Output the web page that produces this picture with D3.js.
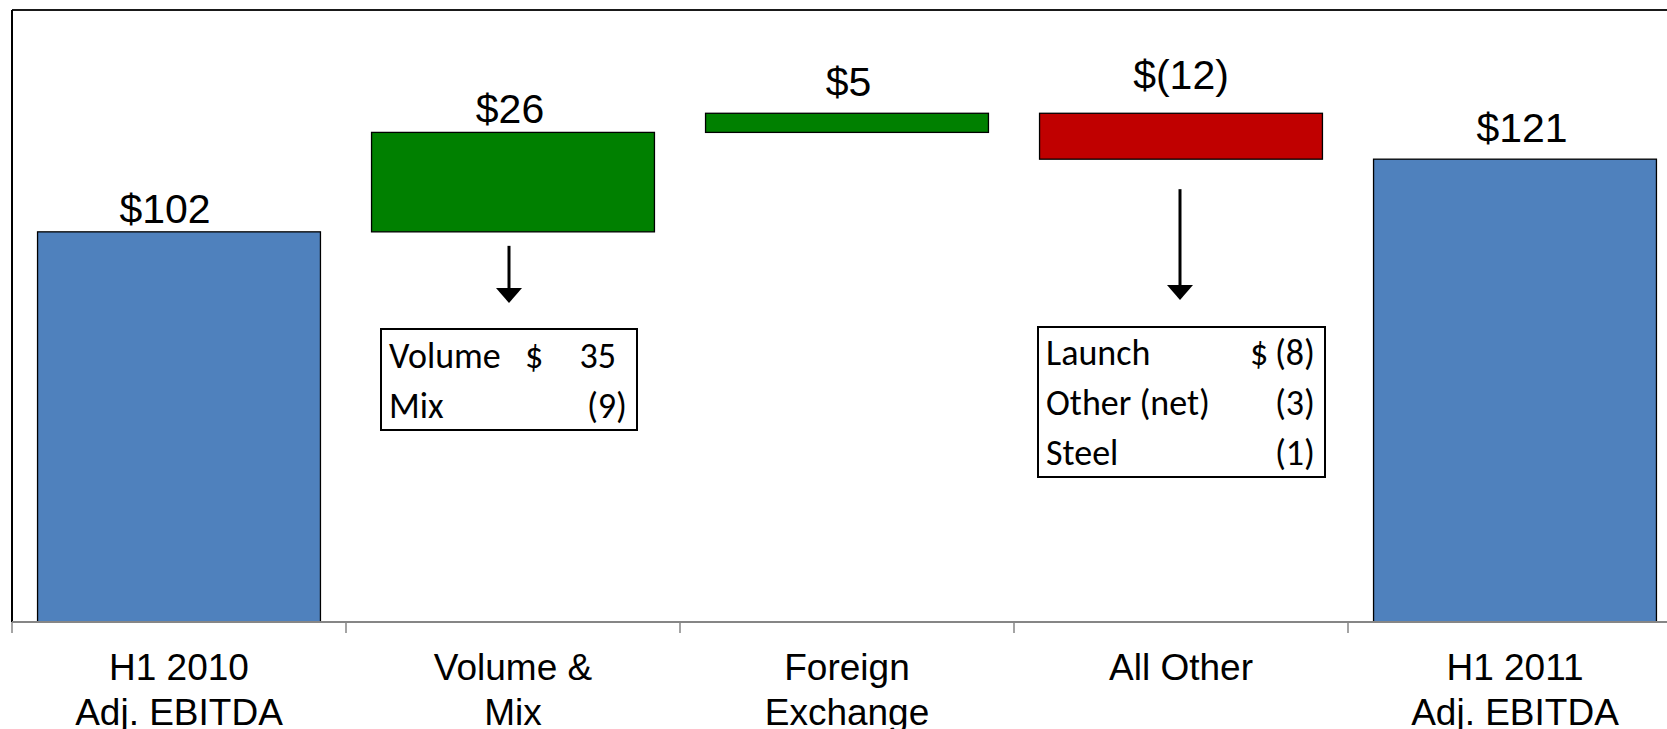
<!DOCTYPE html>
<html>
<head>
<meta charset="utf-8">
<script src="https://cdn.jsdelivr.net/npm/d3@7"></script>
<style>
  html, body { margin: 0; padding: 0; background: #fff; }
  svg { display: block; }
</style>
</head>
<body>
<svg id="chart" width="1667" height="729"></svg>
<script>
// ---------- data ----------
const categories = ["H1 2010\nAdj. EBITDA", "Volume &\nMix", "Foreign\nExchange", "All Other", "H1 2011\nAdj. EBITDA"];
const values = [102, 26, 5, -12, 121];
const kinds = ["total", "delta", "delta", "delta", "total"];
const valueLabels = ["$102", "$26", "$5", "$(12)", "$121"];
const volumeMixItems = ["Volume", "Mix"];
const volumeMixValues = [35, -9];
const allOtherItems = ["Launch", "Other (net)", "Steel"];
const allOtherValues = [-8, -3, -1];
const yDomain = [0, 160];

// ---------- layout ----------
const W = 1667, H = 729;
const plotLeft = 12, plotTop = 10, plotBottom = 622, plotRight = 1682;
const svg = d3.select("#chart");

const x = d3.scaleBand().domain(categories).range([plotLeft, plotRight])
  .paddingInner(0.153).paddingOuter(0.0765);
const y = d3.scaleLinear().domain(yDomain).range([plotBottom, plotTop]);

// waterfall segments
let run = 0;
const segs = categories.map((c, i) => {
  let lo, hi;
  if (kinds[i] === "total") { lo = 0; hi = values[i]; run = values[i]; }
  else { const s = run; run += values[i]; lo = Math.min(s, run); hi = Math.max(s, run); }
  return { cat: c, lo, hi, v: values[i], kind: kinds[i], label: valueLabels[i] };
});
const fillFor = d => d.kind === "total" ? "#4F81BD" : (d.v >= 0 ? "#008000" : "#C00000");

// plot frame (top + left)
svg.append("line").attr("x1", plotLeft).attr("x2", W).attr("y1", plotTop).attr("y2", plotTop)
  .attr("stroke", "#1a1a1a").attr("stroke-width", 1.8);
svg.append("line").attr("x1", plotLeft).attr("x2", plotLeft).attr("y1", plotTop).attr("y2", plotBottom)
  .attr("stroke", "#000").attr("stroke-width", 2);

// bars
svg.selectAll("rect.bar").data(segs).enter().append("rect")
  .attr("class", "bar")
  .attr("x", d => x(d.cat))
  .attr("width", x.bandwidth())
  .attr("y", d => y(d.hi))
  .attr("height", d => y(d.lo) - y(d.hi))
  .attr("fill", fillFor)
  .attr("stroke", "#000").attr("stroke-width", 1.3);

// x axis (gray line + ticks at band boundaries)
const axisG = svg.append("g").attr("transform", `translate(0,${plotBottom})`);
axisG.append("line").attr("x1", plotLeft).attr("x2", W).attr("y1", 0).attr("y2", 0)
  .attr("stroke", "#868686").attr("stroke-width", 2);
const boundaries = categories.map(c => x(c) - x.step() * x.paddingInner() / 2);
axisG.selectAll("line.tick").data(boundaries).enter().append("line")
  .attr("class", "tick")
  .attr("x1", d => d).attr("x2", d => d).attr("y1", 0).attr("y2", 11)
  .attr("stroke", "#868686").attr("stroke-width", 1.5);

// category labels
const catG = svg.append("g");
categories.forEach(c => {
  const t = catG.append("text")
    .attr("x", x(c) + x.bandwidth() / 2)
    .attr("y", 680)
    .attr("text-anchor", "middle")
    .attr("font-family", "'Liberation Sans', Arial, sans-serif")
    .attr("font-size", 37).attr("fill", "#000");
  c.split("\n").forEach((line, k) => {
    t.append("tspan").attr("x", x(c) + x.bandwidth() / 2).attr("dy", k === 0 ? 0 : 45).text(line);
  });
});

// value labels above bars
const labelGap = [9, 9, 17, 24, 17];
const labelDx = [-14, -3, 1.5, 0, 7];
svg.selectAll("text.vlabel").data(segs).enter().append("text")
  .attr("class", "vlabel")
  .attr("x", (d, i) => x(d.cat) + x.bandwidth() / 2 + labelDx[i])
  .attr("y", (d, i) => y(d.hi) - labelGap[i])
  .attr("text-anchor", "middle")
  .attr("font-family", "'Liberation Sans', Arial, sans-serif")
  .attr("font-size", 41).attr("fill", "#000")
  .text(d => d.label);

// arrows
function arrow(cx, y0, tip) {
  const g = svg.append("g");
  g.append("line").attr("x1", cx).attr("x2", cx).attr("y1", y0).attr("y2", tip - 12)
    .attr("stroke", "#000").attr("stroke-width", 3);
  g.append("path").attr("d", `M${cx - 13},${tip - 15} L${cx + 13},${tip - 15} L${cx},${tip} Z`).attr("fill", "#000");
}
const c2 = x(categories[1]) + x.bandwidth() / 2;
const c4 = x(categories[3]) + x.bandwidth() / 2;
arrow(c2 - 4, y(segs[1].lo) + 14, 303);
arrow(c4 - 1, y(segs[3].lo) + 30, 300);

// breakdown boxes
const fmtAmt = v => v < 0 ? `(${Math.abs(v)})` : `${v}`;
function breakdownBox(left, top, width, items, vals, dollarFromRight, baseline0) {
  const rowH = 50;
  const height = items.length * rowH + (items.length === 2 ? 1 : 0);
  const fs = 36;
  const g = svg.append("g");
  g.append("rect").attr("x", left).attr("y", top).attr("width", width).attr("height", height)
    .attr("fill", "#fff").attr("stroke", "#000").attr("stroke-width", 2);
  const font = "Carlito, Calibri, Lato, sans-serif";
  const amtRight = left + width - 10;
  items.forEach((it, i) => {
    const by = baseline0 + i * rowH;
    g.append("text").attr("x", left + 8).attr("y", by).attr("font-family", font)
      .attr("font-size", fs).attr("fill", "#000").text(it);
    if (i === 0) {
      g.append("text").attr("x", left + width - dollarFromRight).attr("y", by).attr("font-family", font)
        .attr("font-size", fs).attr("fill", "#000").text("$");
    }
    g.append("text").attr("x", vals[i] < 0 ? amtRight : amtRight - 11).attr("y", by)
      .attr("text-anchor", "end").attr("font-family", font)
      .attr("font-size", fs).attr("fill", "#000").text(fmtAmt(vals[i]));
  });
}
breakdownBox(c2 - 132, 329, 256, volumeMixItems, volumeMixValues, 112, 368);
breakdownBox(c4 - 143, 327, 287, allOtherItems, allOtherValues, 75, 365);
</script>
</body>
</html>
